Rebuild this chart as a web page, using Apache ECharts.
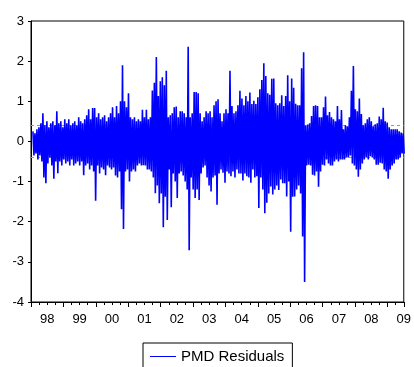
<!DOCTYPE html>
<html>
<head>
<meta charset="utf-8">
<script src="https://cdn.jsdelivr.net/npm/echarts@6/dist/echarts.min.js"></script>
<style>
  html, body { margin: 0; padding: 0; background: #fff; }
  #chart { width: 414px; height: 367px; }
</style>
</head>
<body>
<div id="chart"></div>
<script>
// residual envelope, one high / low pair per ~3 weeks
const hi = [
  0.25, 0.2, 0.3, 0.35, 0.45, 0.7, 0.4, 0.5, 0.35, 0.45,
  0.5, 0.4, 0.75, 0.45, 0.5, 0.35, 0.55, 0.45, 0.55, 0.4,
  0.45, 0.5, 0.4, 0.6, 0.5, 0.45, 0.55, 0.65, 0.8, 0.55,
  0.83, 0.83, 0.6, 0.7, 0.55, 0.6, 0.65, 0.5, 0.6, 0.7,
  0.85, 0.6, 0.88, 0.7, 1.0, 1.9,
  1.0, 0.85, 1.2, 0.6, 0.55, 0.6, 0.5, 0.55, 0.5, 0.79,
  0.6, 0.79, 0.55, 0.6, 1.27, 1.46, 2.1, 1.13, 1.5, 1.6,
  1.4, 1.76, 0.6, 0.65, 0.7, 0.85, 0.87, 0.6, 0.75, 0.75,
  0.7, 0.6, 2.36, 0.6, 0.7, 1.23, 1.23, 1.2, 0.7, 0.5,
  0.6, 0.75, 0.7, 0.75, 0.6, 0.9, 1.0,
  1.05, 0.7, 0.5, 0.7, 0.8, 0.7, 1.76, 0.88, 0.7, 0.75,
  0.9, 1.26, 1.07, 0.9, 1.13, 1.0, 1.22, 0.93, 1.01, 0.93,
  1.1, 1.3, 1.53, 1.95, 1.63, 1.2, 1.16, 1.56, 1.57, 0.95,
  0.9, 0.95, 1.15, 0.88, 1.13, 1.65, 1.0, 1.57, 1.34, 0.94,
  0.9, 0.9, 1.82, 2.22, 0.4, 0.42, 0.45,
  0.63, 0.88, 0.9, 0.88, 0.6, 0.6, 0.85, 1.12, 0.65, 0.73,
  0.6, 0.55, 0.5, 0.88, 0.55, 0.78, 0.3, 0.4, 0.38, 0.6,
  1.26, 1.88, 0.8, 0.75, 1.07, 0.68, 0.4, 0.45, 0.55, 0.6,
  0.5, 0.38, 0.43, 0.45, 0.62, 0.55, 0.84, 0.5, 0.47, 0.35,
  0.3, 0.3, 0.3, 0.3, 0.25, 0.22, 0.2
];
const lo = [
  -0.35, -0.3, -0.45, -0.35, -0.5, -0.9, -1.04, -0.55, -0.4, -0.6,
  -0.93, -0.5, -0.79, -0.5, -0.6, -0.45, -0.55, -0.5, -0.6, -0.45,
  -0.6, -0.55, -0.5, -0.6, -0.5, -0.84, -0.6, -0.55, -0.7, -0.6,
  -0.75, -1.48, -0.6, -0.8, -0.65, -0.7, -0.84, -0.6, -0.65, -0.7,
  -0.65, -0.85, -0.9, -0.75, -1.69, -2.18,
  -0.75, -0.7, -1.0, -0.75, -0.7, -0.75, -0.6, -0.55, -0.6, -0.59,
  -0.6, -0.7, -0.7, -0.75, -0.9, -1.29, -1.1, -1.54, -1.3, -2.14,
  -1.38, -1.96, -0.7, -1.64, -0.8, -1.0, -1.41, -0.8, -0.75, -0.85,
  -1.0, -1.2, -2.71, -0.9, -1.2, -1.41, -1.2, -1.46, -0.8, -0.65,
  -0.6, -0.9, -1.1, -1.25, -0.9, -0.85, -1.58,
  -0.8, -0.7, -0.78, -1.03, -0.75, -0.8, -0.87, -0.75, -0.9, -0.7,
  -0.8, -0.8, -0.97, -0.8, -0.87, -0.9, -1.03, -0.7, -0.9, -0.87,
  -1.66, -0.9, -1.2, -1.79, -1.53, -1.3, -1.12, -1.32, -1.2, -1.1,
  -1.21, -0.95, -1.04, -1.04, -1.37, -1.0, -2.25, -1.38, -1.37, -1.2,
  -1.1, -1.3, -2.37, -3.5, -0.6, -0.58, -0.6,
  -0.83, -0.85, -0.75, -1.13, -0.75, -0.58, -0.6, -0.45, -0.55, -0.6,
  -0.6, -0.5, -0.45, -0.5, -0.45, -0.45, -0.45, -0.4, -0.4, -0.35,
  -0.55, -0.6, -0.7, -0.88, -0.7, -0.55, -0.45, -0.4, -0.45, -0.37,
  -0.4, -0.45, -0.58, -0.58, -0.53, -0.55, -0.7, -0.75, -0.93, -0.7,
  -0.6, -0.55, -0.45, -0.45, -0.4, -0.3, -0.3
];
const yearLabels = ['98', '99', '00', '01', '02', '03', '04', '05', '06', '07', '08', '09'];
const startYear = 1998.06;
const step = 0.0614;   // years between envelope pairs
const seBand = 0.4;    // dashed +/- band

const font = 'Liberation Sans, Arial, sans-serif';

// zigzag high -> low so the line fills the band like the daily series does
const pts = [];
hi.forEach((h, i) => {
  const t = startYear + i * step;
  pts.push([t, h]);
  pts.push([t + step / 2, lo[i]]);
});

const chart = echarts.init(document.getElementById('chart'));
chart.setOption({
  animation: false,
  backgroundColor: '#fff',
  textStyle: { fontFamily: font },
  grid: {
    left: 31, right: 9, top: 21, bottom: 65,
    show: true, borderColor: '#000', borderWidth: 1
  },
  legend: {
    data: ['PMD Residuals'],
    left: 143, top: 343,
    orient: 'horizontal',
    padding: [6, 8, 6, 7],
    borderColor: '#000', borderWidth: 1, borderRadius: 0,
    icon: 'rect', itemWidth: 26, itemHeight: 1,
    textStyle: { fontFamily: font, fontSize: 15, color: '#000' }
  },
  xAxis: [
    {
      type: 'value', position: 'bottom', min: 1998, max: 2009.5, interval: 0.25,
      axisLine: { show: true, onZero: false, lineStyle: { color: '#000', width: 1 } },
      axisTick: { show: true, length: 3, lineStyle: { color: '#000' } },
      axisLabel: { show: false },
      splitLine: { show: false }
    },
    {
      type: 'value', position: 'bottom', min: 1998, max: 2009.5, interval: 1,
      axisLine: { show: false, onZero: false },
      axisTick: { show: true, length: 5, lineStyle: { color: '#000' } },
      axisLabel: { show: false },
      splitLine: { show: false }
    },
    {
      // labels sit in the middle of each year
      type: 'value', position: 'bottom', min: -0.5, max: 11, interval: 0.5,
      axisLine: { show: false, onZero: false },
      axisTick: { show: false },
      splitLine: { show: false },
      axisLabel: {
        show: true, margin: 11, fontSize: 13, color: '#000', fontFamily: font,
        formatter: v => Math.abs(v - Math.round(v)) < 1e-6 ? (yearLabels[Math.round(v)] || '') : ''
      }
    }
  ],
  yAxis: {
    type: 'value', min: -4, max: 3, interval: 1,
    axisLine: { show: true, onZero: false, lineStyle: { color: '#000', width: 1 } },
    axisTick: { show: true, length: 3, lineStyle: { color: '#000' } },
    axisLabel: { margin: 7, fontSize: 13, color: '#000', fontFamily: font },
    splitLine: { show: false }
  },
  series: [
    {
      name: 'PMD Residuals',
      type: 'line',
      xAxisIndex: 0,
      data: pts,
      symbol: 'none',
      showSymbol: false,
      z: 3,
      lineStyle: { color: '#0000ff', width: 1.6 },
      itemStyle: { color: '#0000ff' }
    },
    {
      name: 'band',
      type: 'line',
      xAxisIndex: 0,
      data: [],
      z: 1,
      markLine: {
        silent: true, symbol: 'none', z: 1,
        label: { show: false },
        lineStyle: { color: '#999', type: [3, 3], width: 1 },
        data: [{ yAxis: seBand }, { yAxis: -seBand }]
      }
    }
  ]
});
</script>
</body>
</html>
